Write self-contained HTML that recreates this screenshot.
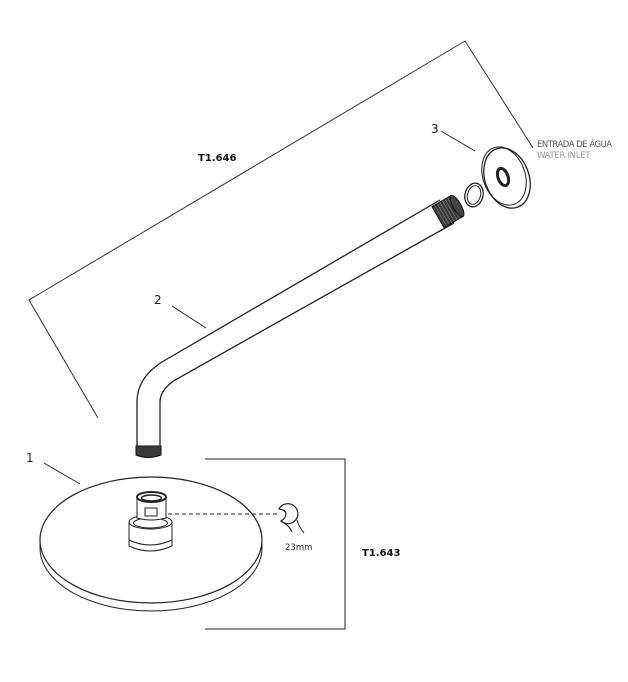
<!DOCTYPE html>
<html><head><meta charset="utf-8"><style>
html,body{margin:0;padding:0;background:#fff;}
svg{display:block;}
text{font-family:"DejaVu Sans","Liberation Sans",sans-serif;}
</style></head><body>
<svg width="628" height="682" viewBox="0 0 628 682" xmlns="http://www.w3.org/2000/svg">
<g fill="none" stroke="#222" stroke-width="1">
<polyline points="98,418 29,300 465,41 533,148" stroke="#333"/>
<polyline points="205,459 345,459 345,629 205,629" stroke="#555" stroke-width="1.3"/>
<line x1="44" y1="463" x2="80" y2="484"/>
<line x1="172" y1="306" x2="206" y2="328"/>
<line x1="441" y1="131" x2="475" y2="151"/>
<!-- pipe -->
<path d="M440,200 L162,362 Q137,378 137,402 L137,450" stroke-width="1.3"/>
<path d="M454,223 L175,380 Q160,390 160,402 L160,450" stroke-width="1.3"/>
<!-- top thread -->
<g transform="translate(457,206) rotate(-30)">
<rect x="-22" y="-12" width="22" height="24" fill="#3a3a3a" stroke="#111"/>
<g stroke="#888" stroke-width="0.6">
<line x1="-19" y1="-12" x2="-19" y2="12"/><line x1="-16" y1="-12" x2="-16" y2="12"/><line x1="-13" y1="-12" x2="-13" y2="12"/><line x1="-10" y1="-12" x2="-10" y2="12"/><line x1="-7" y1="-12" x2="-7" y2="12"/><line x1="-4" y1="-12" x2="-4" y2="12"/>
</g>
<ellipse cx="0" cy="0" rx="4" ry="12" fill="#444" stroke="#111"/>
</g>
<!-- bottom thread -->
<path d="M136,446 L161,446 L161,455 Q148,460 136,455 Z" fill="#3a3a3a" stroke="#111"/>
<!-- ring -->
<ellipse cx="474" cy="195" rx="9" ry="12" transform="rotate(15 474 195)" stroke-width="1.3"/>
<ellipse cx="474" cy="195" rx="6.5" ry="9.5" transform="rotate(15 474 195)"/>
<!-- escutcheon -->
<ellipse cx="507" cy="178" rx="22" ry="31" transform="rotate(-20 507 178)" stroke-width="1.3"/>
<ellipse cx="504" cy="176" rx="21" ry="30" transform="rotate(-20 504 176)"/>
<ellipse cx="503" cy="177" rx="5" ry="9" transform="rotate(-20 503 177)" stroke-width="3"/>
<!-- shower head -->
<path d="M40,540 L40,548 A111,63 0 0 0 262,548 L262,540"/>
<ellipse cx="151" cy="540" rx="111" ry="63" fill="#fff" stroke-width="1.2"/>
<!-- connector -->
<path d="M129,522 L129,546 Q150,556 172,546 L172,522"/>
<ellipse cx="150.5" cy="522" rx="21.5" ry="7"/>
<ellipse cx="150.5" cy="523" rx="17" ry="5"/>
<path d="M129,540 Q150,550 172,540"/>
<path d="M137,497 L137,518 Q151,522 166,518 L166,497" fill="#fff"/>
<ellipse cx="151.5" cy="497" rx="14.5" ry="5" fill="#fff" stroke-width="2"/>
<ellipse cx="151.5" cy="498" rx="10" ry="3" stroke-width="1.5"/>
<rect x="145" y="508" width="12" height="8"/>
<line x1="168" y1="514" x2="280" y2="514" stroke-dasharray="4,3"/>
<!-- wrench C -->
<path d="M279,509 A10,10 0 1 1 281,521 Q286,518 286,514 Q286,510 279,509 Z" stroke-width="1.2"/>
<path d="M281,521 Q289,525 292,532"/>
<path d="M297,520 Q299,527 304,533"/>
</g>
<g font-size="12" fill="#222">
<text x="26" y="462">1</text>
<text x="154" y="304">2</text>
<text x="431" y="133">3</text>
</g>
<text x="198" y="161" font-size="10" font-weight="bold" fill="#111">T1.646</text>
<text x="362" y="556" font-size="10" font-weight="bold" fill="#111">T1.643</text>
<text x="285" y="550" font-size="8.5" fill="#222">23mm</text>
<text x="537" y="147" font-size="8.5" fill="#555" letter-spacing="-0.5">ENTRADA DE ÁGUA</text>
<text x="537" y="158" font-size="8.5" fill="#999" letter-spacing="-0.3">WATER INLET</text>
</svg>
</body></html>
